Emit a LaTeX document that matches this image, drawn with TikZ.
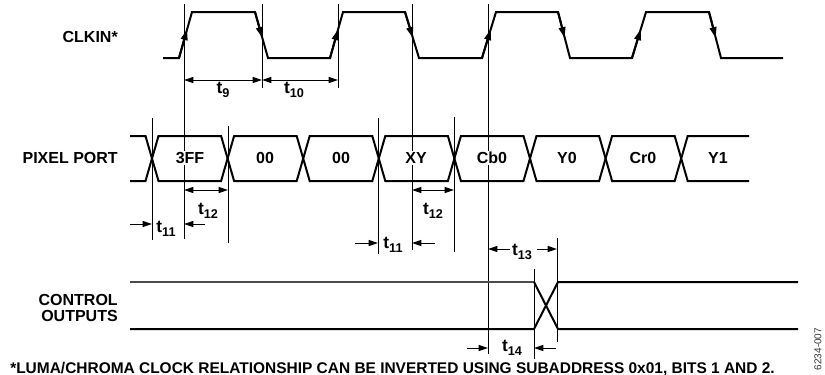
\documentclass[tikz,border=0pt]{standalone}
\usepackage{fontspec}
\setmainfont{Liberation Sans}
\usetikzlibrary{arrows.meta,calc}
\newcommand{\tsub}[1]{t\raisebox{-3.2pt}{\fontsize{9.5}{10}\selectfont #1}}
\begin{document}
\begin{tikzpicture}[x=0.75pt,y=-0.75pt,
  wave/.style={line width=1.5pt, line join=miter, line cap=butt},
  guide/.style={line width=0.7pt},
  dimarr/.style={line width=0.7pt, {Triangle[length=7pt,width=4.5pt]}-{Triangle[length=7pt,width=4.5pt]}},
  ptr/.style={line width=0.7pt, -{Triangle[length=7pt,width=4.5pt]}},
  edgearr/.style={line width=1.5pt, -{Triangle[length=8pt,width=5pt]}},
  lbl/.style={font=\fontsize{12}{14}\selectfont\bfseries, inner sep=0pt},
  tlbl/.style={font=\fontsize{13}{14}\selectfont\bfseries, inner sep=0pt},
  sig/.style={lbl, anchor=east, align=right},
  cell/.style={lbl, fill=white, inner sep=1pt},
]
\useasboundingbox (0,0) rectangle (825,375);

% ---------- signal names ----------
\node[sig] (clk) at (118,37) {CLKIN*};
\node[sig] (pix) at (118,158) {PIXEL PORT};
\node[sig, font=\fontsize{12}{12}\selectfont\bfseries] (ctl) at (118,308) {CONTROL\\OUTPUTS};

% ---------- guide lines ----------
\draw[guide] (184,4) -- (184,239);
\draw[guide] (262,4) -- (262,88);
\draw[guide] (338,4) -- (338,88);
\draw[guide] (412,4) -- (412,250);
\draw[guide] (488,4) -- (488,354);
\draw[guide] (152,118) -- (152,240);
\draw[guide] (228,126) -- (228,243);
\draw[guide] (378,118) -- (378,254);
\draw[guide] (454,117) -- (454,252);
\draw[guide] (557,238) -- (557,342);
\draw[guide] (534,269) -- (534,359);

% ---------- clock ----------
\draw[wave] (163,58) -- (179,58) -- (192,12) -- (255,12) -- (268,58) -- (330,58)
  -- (343,12) -- (405,12) -- (419,58) -- (482,58) -- (496,12) -- (558,12)
  -- (570,58) -- (632,58) -- (646,12) -- (709,12) -- (721,58) -- (783,58);
\foreach \a/\b in {179/192, 330/343, 482/496, 632/646}
  \draw[edgearr] (\a,58) -- ($(\a,58)!0.62!(\b,12)$);
\foreach \a/\b in {255/268, 405/419, 558/570, 709/721}
  \draw[edgearr] (\a,12) -- ($(\a,12)!0.56!(\b,58)$);

% ---------- pixel port bus ----------
\def\ytop{136}\def\ybot{181}\def\ymid{158.5}\def\hw{6.5}
\draw[wave] (130,\ytop) -- (152-\hw,\ytop) -- (152,\ymid) -- (152-\hw,\ybot) -- (130,\ybot);
\foreach \k in {0,...,6}{
  \pgfmathsetmacro\ca{152+75.6*\k}
  \pgfmathsetmacro\cb{152+75.6*(\k+1)}
  \draw[wave] (\ca,\ymid) -- (\ca+\hw,\ytop) -- (\cb-\hw,\ytop) -- (\cb,\ymid)
    -- (\cb-\hw,\ybot) -- (\ca+\hw,\ybot) -- cycle;
}
\draw[wave] (749,\ytop) -- (681.2+\hw,\ytop) -- (681.2,\ymid) -- (681.2+\hw,\ybot) -- (749,\ybot);

\node[cell] (c1) at (190,158) {3FF};
\node[cell] (c2) at (265,158) {00};
\node[cell] (c3) at (341,158) {00};
\node[cell] (c4) at (416,158) {XY};
\node[cell] (c5) at (492,158) {Cb0};
\node[cell] (c6) at (567,158) {Y0};
\node[cell] (c7) at (643,158) {Cr0};
\node[cell] (c8) at (718,158) {Y1};

% ---------- control outputs ----------
\draw[wave, black!70] (130,282) -- (534,282);
\draw[wave] (534,282) -- (558,329) -- (798,329);
\draw[wave] (130,329) -- (534,329) -- (558,282) -- (798,282);

% ---------- timing dimensions ----------
\draw[dimarr] (184,80) -- (262,80);
\draw[dimarr] (262,80) -- (338,80);
\node[tlbl] (t9) at (223,90) {\tsub{9}};
\node[tlbl] (t10) at (294,90) {\tsub{10}};

\draw[dimarr] (184,190) -- (228,190);
\node[tlbl] (t12a) at (208,211) {\tsub{12}};
\draw[dimarr] (412,190) -- (454,190);
\node[tlbl] (t12b) at (433,211) {\tsub{12}};

\draw[ptr] (130,224) -- (152,224);
\draw[ptr] (205,224) -- (184,224);
\node[tlbl] (t11a) at (166,229) {\tsub{11}};

\draw[ptr] (355,243) -- (378,243);
\draw[ptr] (435,243) -- (412,243);
\node[tlbl] (t11b) at (393,245) {\tsub{11}};

\draw[ptr] (510,249) -- (488,249);
\draw[ptr] (537,249) -- (557,249);
\node[tlbl] (t13) at (522,252) {\tsub{13}};

\draw[ptr] (467,348) -- (488,348);
\draw[ptr] (556,348) -- (534,348);
\node[tlbl] (t14) at (512,348) {\tsub{14}};

% ---------- footnote & figure id ----------
\node[lbl, anchor=base west, font=\fontsize{11.6}{14}\selectfont\bfseries] (note) at (10,373)
  {*LUMA/CHROMA CLOCK RELATIONSHIP CAN BE INVERTED USING SUBADDRESS 0x01, BITS 1 AND 2.};
\node[rotate=90, inner sep=0pt, font=\fontsize{7.5}{9}\selectfont, text=black!80] (fig) at (818,349) {6234-007};
\end{tikzpicture}
\end{document}
